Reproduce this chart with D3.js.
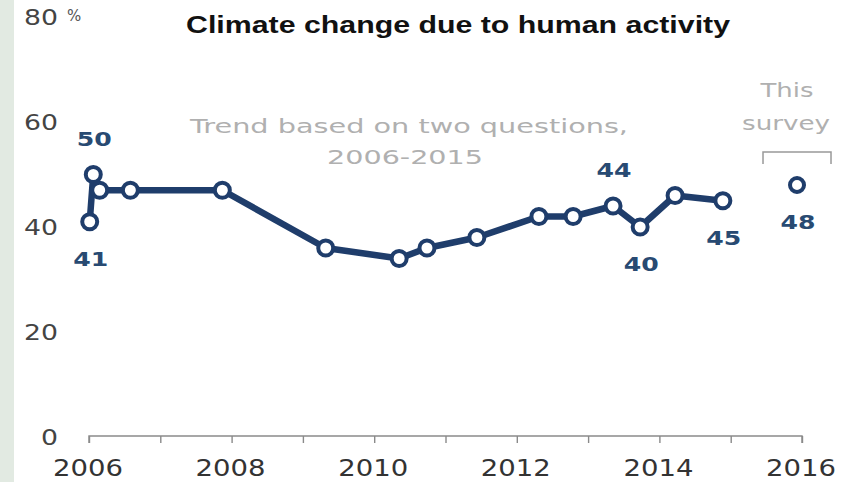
<!DOCTYPE html>
<html>
<head>
<meta charset="utf-8">
<script src="https://cdn.jsdelivr.net/npm/d3@7"></script>
<style>
  html, body { margin: 0; padding: 0; background: #fff; }
  svg { display: block; }
</style>
</head>
<body>
<svg id="chart" width="850" height="482"></svg>
<script>
// ---- data ----
const title = "Climate change due to human activity";
const trendDates  = [2006.01, 2006.06, 2006.15, 2006.58, 2007.87, 2009.32, 2010.35, 2010.74, 2011.44, 2012.31, 2012.79, 2013.35, 2013.73, 2014.22, 2014.89];
const trendValues = [41, 50, 47, 47, 47, 36, 34, 36, 38, 42, 42, 44, 40, 46, 45];
const surveyDates  = [2015.93];
const surveyValues = [48];
const yTicks = [0, 20, 40, 60, 80];
const xTicks = [2006, 2007, 2008, 2009, 2010, 2011, 2012, 2013, 2014, 2015, 2016];
const xLabels = [2006, 2008, 2010, 2012, 2014, 2016];
const labeledTrend = [0, 1, 11, 12, 14];   // indices of labeled trend points
const trendNote = ["Trend based on two questions,", "2006-2015"];
const surveyNote = ["This", "survey"];

// ---- drawing ----
const navy = "#1f3d6b";
const svg = d3.select("#chart");
const x = d3.scaleLinear().domain([2006, 2016]).range([89, 802]);
const y = d3.scaleLinear().domain([0, 80]).range([437, 17]);

function fit(sel, w) {
  sel.attr("textLength", w).attr("lengthAdjust", "spacingAndGlyphs");
  return sel;
}

// left strip
svg.append("rect").attr("x", 0).attr("y", 0).attr("width", 14).attr("height", 482).attr("fill", "#e2eae2");

// title
fit(svg.append("text")
  .attr("x", 186).attr("y", 25)
  .attr("dominant-baseline", "central")
  .attr("font-family", "Liberation Sans, Arial, sans-serif")
  .attr("font-weight", "bold").attr("font-size", 23)
  .attr("fill", "#111")
  .text(title), 544);

// x axis
const xAxis = d3.axisBottom(x).tickValues(xTicks).tickSize(7).tickFormat("");
const gx = svg.append("g").attr("transform", `translate(0,${y(0) - 1})`).call(xAxis);
gx.select(".domain").attr("stroke", "#8a8a8a").attr("stroke-width", 1.4).attr("d", `M${x(2006)},7V0H${x(2016)}V7`);
gx.selectAll(".tick line").attr("stroke", "#8a8a8a").attr("stroke-width", 1.4);

svg.append("g").selectAll("text").data(xLabels).join("text")
  .attr("x", d => x(d) - 1).attr("y", 468)
  .attr("text-anchor", "middle").attr("dominant-baseline", "central")
  .attr("font-family", "DejaVu Sans, Verdana, sans-serif").attr("font-size", 23)
  .attr("fill", "#333")
  .text(d => d)
  .each(function() { fit(d3.select(this), 70); });

// y labels
svg.append("g").selectAll("text").data(yTicks).join("text")
  .attr("x", 58).attr("y", d => y(d) + 1)
  .attr("text-anchor", "end").attr("dominant-baseline", "central")
  .attr("font-family", "DejaVu Sans, Verdana, sans-serif").attr("font-size", 21)
  .attr("fill", "#444")
  .text(d => d)
  .each(function(d) { fit(d3.select(this), String(d).length * 17); });
svg.append("text")
  .attr("x", 67).attr("y", y(80) - 1)
  .attr("dominant-baseline", "central")
  .attr("font-family", "DejaVu Sans, Verdana, sans-serif").attr("font-size", 15)
  .attr("fill", "#555")
  .text("%");

// annotations
const noteFont = "DejaVu Sans, Verdana, sans-serif";
fit(svg.append("text").attr("x", 409).attr("y", 126).attr("text-anchor", "middle").attr("dominant-baseline", "central")
  .attr("font-family", noteFont).attr("font-size", 20).attr("fill", "#b0b0b0").text(trendNote[0]), 438);
fit(svg.append("text").attr("x", 405).attr("y", 157).attr("text-anchor", "middle").attr("dominant-baseline", "central")
  .attr("font-family", noteFont).attr("font-size", 20).attr("fill", "#b0b0b0").text(trendNote[1]), 156);
fit(svg.append("text").attr("x", 787).attr("y", 90).attr("text-anchor", "middle").attr("dominant-baseline", "central")
  .attr("font-family", noteFont).attr("font-size", 20).attr("fill", "#b0b0b0").text(surveyNote[0]), 53);
fit(svg.append("text").attr("x", 786).attr("y", 123).attr("text-anchor", "middle").attr("dominant-baseline", "central")
  .attr("font-family", noteFont).attr("font-size", 20).attr("fill", "#b0b0b0").text(surveyNote[1]), 88);
svg.append("path")
  .attr("d", `M${x(surveyDates[0]) - 34},164V152H${x(surveyDates[0]) + 34}V164`)
  .attr("fill", "none").attr("stroke", "#999").attr("stroke-width", 1.5);

// trend line
const trend = trendDates.map((d, i) => ({ t: d, v: trendValues[i], i }));
const survey = surveyDates.map((d, i) => ({ t: d, v: surveyValues[i] }));
svg.append("path").datum(trend)
  .attr("d", d3.line().x(d => x(d.t)).y(d => y(d.v)))
  .attr("fill", "none").attr("stroke", navy).attr("stroke-width", 6.5).attr("stroke-linejoin", "round");

svg.append("g").selectAll("circle").data(trend).join("circle")
  .attr("cx", d => x(d.t)).attr("cy", d => y(d.v)).attr("r", 7.5)
  .attr("fill", "#fff").attr("stroke", navy).attr("stroke-width", 4);
svg.append("g").selectAll("circle").data(survey).join("circle")
  .attr("cx", d => x(d.t)).attr("cy", d => y(d.v)).attr("r", 7)
  .attr("fill", "#fff").attr("stroke", navy).attr("stroke-width", 4);

// value labels
const above = new Set([1, 11]);
const lab = trend.filter(d => labeledTrend.includes(d.i)).map(d => ({ ...d, up: above.has(d.i) }))
  .concat(survey.map(d => ({ ...d, up: false })));
svg.append("g").selectAll("text").data(lab).join("text")
  .attr("x", d => x(d.t) + 1).attr("y", d => y(d.v) + (d.up ? -36 : 37))
  .attr("text-anchor", "middle").attr("dominant-baseline", "central")
  .attr("font-family", "DejaVu Sans, Verdana, sans-serif").attr("font-weight", "bold").attr("font-size", 20)
  .attr("fill", "#284a72")
  .text(d => d.v)
  .each(function() { fit(d3.select(this), 35); });
</script>
</body>
</html>
